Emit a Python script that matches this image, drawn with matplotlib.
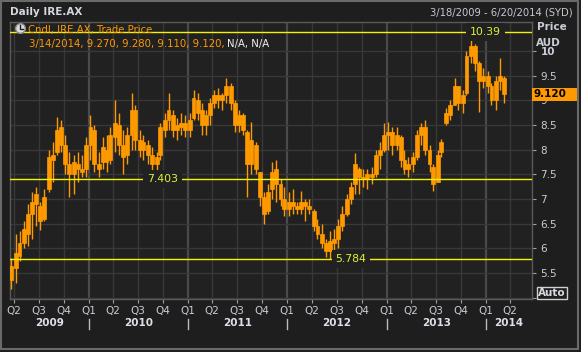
import matplotlib
matplotlib.use("Agg")
import numpy as np
import pandas as pd
import matplotlib.pyplot as plt
import matplotlib.dates as mdates
import matplotlib.transforms as mtransforms
from matplotlib.lines import Line2D
from matplotlib.patches import Rectangle

# semi-monthly OHLC (IRE.AX)
opens = [5.35, 5.60, 5.85, 6.10, 6.30, 6.70, 6.90, 6.85, 6.60, 7.20, 7.80, 7.95, 8.45, 8.10, 7.70, 7.50, 7.70, 7.60, 7.60,
         8.10, 8.40, 7.70, 7.75, 8.00, 7.80, 8.25, 8.50, 8.10, 7.90, 8.30, 8.80, 8.20, 8.00, 8.10, 7.90, 7.70, 7.90, 8.40, 8.60, 8.70, 8.40, 8.45, 8.55,
         8.40, 8.65, 9.00, 8.80, 8.50, 8.70, 8.95, 9.10, 9.00, 9.10, 9.30, 8.95, 8.50, 8.70, 8.35, 7.70, 8.10, 7.55, 7.05, 6.75, 7.20, 7.60, 7.30, 7.00,
         6.80, 6.95, 6.85, 6.80, 6.95, 6.85, 6.75, 6.45, 6.30, 6.10, 5.95, 6.10, 6.20, 6.45, 6.70, 7.00, 7.30, 7.60, 7.45, 7.40, 7.50, 7.50, 7.90, 8.00,
         8.30, 8.35, 8.10, 8.25, 7.80, 7.60, 7.70, 7.85, 8.30, 8.45, 8.00, 7.65, 7.35, 7.95, 8.55, 8.70, 8.90, 9.30, 8.95, 9.15, 9.90, 10.10, 9.75, 9.40,
         9.50, 9.30, 9.00, 9.40, 9.45]
highs = [5.80, 6.30, 6.35, 6.55, 6.90, 7.15, 7.25, 6.95, 7.20, 8.00, 8.15, 8.67, 8.60, 8.30, 7.95, 7.90, 7.95, 7.90, 8.25,
         8.70, 8.50, 7.95, 8.25, 8.30, 8.45, 9.00, 8.75, 8.40, 8.45, 9.14, 8.90, 8.40, 8.30, 8.20, 8.05, 7.95, 8.55, 8.75, 9.14, 8.80, 8.65, 8.75, 8.70,
         8.75, 9.20, 9.15, 8.95, 8.80, 9.05, 9.20, 9.25, 9.15, 9.45, 9.35, 9.00, 8.80, 8.75, 8.40, 8.57, 8.15, 7.55, 7.15, 7.30, 7.75, 7.80, 7.40, 7.25,
         7.15, 7.20, 6.95, 7.17, 7.00, 7.00, 6.80, 6.60, 6.50, 6.20, 6.35, 6.40, 6.60, 6.85, 7.10, 7.35, 7.94, 7.65, 7.60, 7.60, 7.65, 8.00, 8.15, 8.54,
         8.57, 8.45, 8.45, 8.30, 8.00, 7.85, 7.95, 8.40, 8.55, 8.60, 8.10, 7.70, 8.00, 8.22, 8.85, 9.00, 9.45, 9.30, 9.20, 10.00, 10.39, 10.15, 9.80, 9.65,
         9.60, 9.35, 9.50, 9.86, 9.50]
lows = [5.18, 5.30, 5.75, 6.00, 6.05, 6.20, 6.45, 6.38, 6.55, 7.15, 7.35, 7.90, 7.95, 7.50, 7.05, 7.10, 7.35, 7.45, 7.45,
        7.80, 7.55, 7.45, 7.60, 7.55, 7.70, 7.95, 7.90, 7.50, 7.70, 8.00, 8.00, 7.85, 7.80, 7.70, 7.50, 7.45, 7.80, 8.25, 8.40, 8.25, 8.20, 8.30, 8.25,
        8.25, 8.60, 8.60, 8.30, 8.30, 8.50, 8.85, 8.85, 8.80, 8.95, 8.80, 8.35, 8.35, 8.30, 7.05, 7.50, 7.50, 6.85, 6.50, 6.70, 7.00, 6.95, 6.85, 6.65,
        6.65, 6.70, 6.70, 6.70, 6.55, 6.70, 6.35, 6.20, 6.00, 5.82, 5.784, 5.95, 6.00, 6.35, 6.65, 6.90, 7.10, 7.10, 7.25, 7.20, 7.30, 7.45, 7.60, 7.95,
        8.00, 7.90, 8.00, 7.65, 7.50, 7.45, 7.55, 7.80, 8.10, 7.90, 7.55, 7.17, 7.35, 7.85, 8.50, 8.60, 8.90, 8.80, 8.75, 9.10, 9.75, 9.60, 8.77, 9.25,
        9.15, 8.90, 8.80, 9.20, 8.95]
closes = [5.65, 5.90, 6.10, 6.40, 6.70, 6.95, 7.10, 6.55, 7.05, 7.85, 7.90, 8.40, 8.10, 7.70, 7.50, 7.75, 7.60, 7.55, 8.10,
          8.45, 7.70, 7.60, 8.05, 7.75, 8.30, 8.55, 8.10, 7.85, 8.30, 8.80, 8.20, 8.00, 8.15, 7.90, 7.70, 7.85, 8.45, 8.60, 8.80, 8.40, 8.50, 8.55, 8.40,
          8.60, 9.05, 8.75, 8.50, 8.70, 8.95, 9.10, 9.00, 9.10, 9.30, 8.95, 8.50, 8.70, 8.40, 7.70, 8.20, 7.60, 7.05, 6.70, 7.15, 7.55, 7.30, 7.00, 6.80,
          6.95, 6.85, 6.80, 6.95, 6.85, 6.80, 6.45, 6.30, 6.10, 5.95, 6.15, 6.20, 6.45, 6.70, 7.00, 7.25, 7.70, 7.45, 7.40, 7.50, 7.45, 7.90, 8.00, 8.30,
          8.35, 8.10, 8.30, 7.80, 7.60, 7.70, 7.85, 8.30, 8.45, 8.00, 7.70, 7.30, 7.90, 8.15, 8.75, 8.90, 9.30, 8.95, 9.10, 9.90, 10.10, 9.75, 9.40, 9.50,
          9.30, 9.00, 9.40, 9.50, 9.12]
dates = pd.date_range("2009-03-15", periods=len(opens), freq="SMS")

max_level, avg_level, min_level = 10.39, 7.403, 5.784
last_price = 9.120
quarter_starts = pd.date_range("2009-04-01", "2014-04-01", freq="QS")
quarter_labels = ["Q%d" % d.quarter for d in quarter_starts]
years = [2009, 2010, 2011, 2012, 2013, 2014]

bg = "#212121"
orange = "#ff9900"
yellow = "#f4f400"
label_yellow = "#dff03a"
txt = "#c9cdd6"

W, H = 581, 352
fig = plt.figure(figsize=(W / 100, H / 100), dpi=100, facecolor="#1e1e1e")
ax = fig.add_axes([10 / W, 1 - 299 / H, 522 / W, 277 / H], facecolor=bg)

start = pd.Timestamp("2009-03-18")
end = pd.Timestamp("2014-06-20")
ax.set_xlim(mdates.date2num(start), mdates.date2num(end))
ax.set_ylim(4.974, 10.588)

# grid
for q in quarter_starts:
    if q.quarter == 1:
        ax.axvline(mdates.date2num(q), color="#4a4a4a", lw=1.6, zorder=0)
    else:
        ax.axvline(mdates.date2num(q), color="#383838", lw=1.0, zorder=0)
yt = np.arange(5.0, 10.01, 0.5)
for v in yt:
    ax.axhline(v, color="#383838", lw=1.0, zorder=0)

# candles
x = mdates.date2num(dates) + 7
o, h, l, c = map(np.array, (opens, highs, lows, closes))
ax.vlines(x, l, h, color=orange, lw=1.0, zorder=3)
ax.bar(x, np.maximum(np.abs(c - o), 0.03), bottom=np.minimum(o, c), width=14.5,
       color=orange, edgecolor=orange, lw=0.5, zorder=3)

# level lines
pos_max = mdates.date2num(pd.Timestamp("2014-01-01"))
pos_avg = mdates.date2num(pd.Timestamp("2010-09-29"))
pos_min = mdates.date2num(pd.Timestamp("2012-08-23"))
for lev, pos, lab in [(max_level, pos_max, "10.39"), (avg_level, pos_avg, "7.403"), (min_level, pos_min, "5.784")]:
    ax.axhline(lev, color=yellow, lw=1.0, zorder=4)
    ax.text(pos, lev, lab, color=label_yellow, fontsize=7.8, ha="center", va="center", zorder=5,
            bbox=dict(boxstyle="square,pad=0.35", fc=bg, ec="none"))

# axes styling
for s in ax.spines.values():
    s.set_color("#5a5a5a")
    s.set_linewidth(1.0)
ax.yaxis.tick_right()
ax.set_yticks(yt)
ax.set_yticklabels(["" if v == 5 else ("%g" % v) for v in yt])
ax.tick_params(axis="y", colors="#a0a0a0", labelcolor=txt, length=3, pad=3, labelsize=7.5)
ax.get_yticklabels()[-1].set_fontweight("bold")
ax.set_xticks(mdates.date2num(quarter_starts))
ax.set_xticklabels(quarter_labels)
ax.tick_params(axis="x", colors="#a0a0a0", labelcolor=txt, length=3, pad=2, labelsize=7.5)

trans = mtransforms.blended_transform_factory(ax.transData, ax.transAxes)
for yr in years:
    y0 = max(pd.Timestamp("%d-01-01" % yr), start)
    y1 = min(pd.Timestamp("%d-01-01" % (yr + 1)), end)
    mid = (mdates.date2num(y0) + mdates.date2num(y1)) / 2
    ax.text(mid, -0.088, str(yr), transform=trans, ha="center", va="center",
            fontsize=7.5, fontweight="bold", color="#dde0e8", clip_on=False)
    if yr > 2009:
        xb = mdates.date2num(pd.Timestamp("%d-01-01" % yr))
        ax.plot([xb, xb], [-0.072, -0.108], transform=trans, color="#b8bcc4", lw=1, clip_on=False)

# last price tag (covers the "9" tick label like the original)
tr2 = mtransforms.blended_transform_factory(ax.transAxes, ax.transData)
ax.add_patch(Rectangle((1.0, last_price - 0.126), 45 / 522, 0.252, transform=tr2,
                       fc=orange, ec="none", clip_on=False, zorder=6))
ax.text(1.003, last_price, "%.3f" % last_price, transform=tr2, ha="left", va="center",
        fontsize=7.5, fontweight="bold", color="#000000", clip_on=False, zorder=7)

# header texts
fig.text(10.5 / W, 1 - 12 / H, "Daily IRE.AX", fontsize=7.5, fontweight="bold", color="#d4d7de", va="center")
fig.text(573 / W, 1 - 12.5 / H, "3/18/2009 - 6/20/2014 (SYD)", fontsize=7.2, color="#c4c8d0", va="center", ha="right")
fig.text(537 / W, 1 - 27.5 / H, "Price", fontsize=7.5, fontweight="bold", color=txt, va="center")
fig.text(536 / W, 1 - 42.5 / H, "AUD", fontsize=7.5, fontweight="bold", color=txt, va="center")
fig.text(552 / W, 1 - 293 / H, "Auto", fontsize=7.5, fontweight="bold", color="#d8dbe2", va="center", ha="center",
         bbox=dict(boxstyle="square,pad=0.12", fc="none", ec="#d0d0d0", lw=1))

# legend with clock icon
fig.add_artist(Line2D([20 / W], [1 - 28 / H], marker="o", ms=7, mfc="#dcdcdc", mec="#8a8a8a",
                      transform=fig.transFigure))
fig.add_artist(Line2D([20 / W, 20 / W, 23 / W], [1 - 25 / H, 1 - 28.5 / H, 1 - 28.5 / H],
                      color="#202020", lw=1, transform=fig.transFigure))
fig.text(28 / W, 1 - 30 / H, "Cndl, IRE.AX, Trade Price", fontsize=7.3, color=orange, va="center")
t1 = fig.text(28.5 / W, 1 - 43.5 / H, "3/14/2014, 9.270, 9.280, 9.110, 9.120, ", fontsize=7.3,
              color=orange, va="center")
r = fig.canvas.get_renderer()
bb = t1.get_window_extent(renderer=r)
fig.text(bb.x1 / W, 1 - 43.5 / H, "N/A, N/A", fontsize=7.3, color="#f0f0f0", va="center")

# outer frame
fig.add_artist(Rectangle((1 / W, 3 / H), 577 / W, 348 / H, transform=fig.transFigure,
                         fill=False, ec="#6a6a6a", lw=1.5))

fig.savefig("out.png", dpi=100, facecolor=fig.get_facecolor())
